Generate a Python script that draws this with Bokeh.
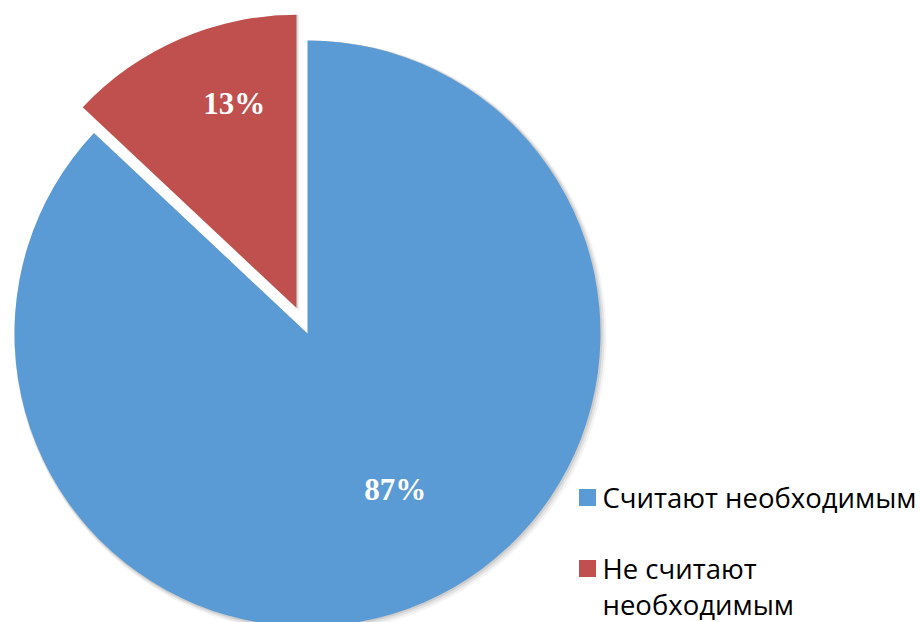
import math
from bokeh.plotting import figure
from bokeh.models import Range1d
from bokeh.core.properties import value
from bokeh.embed import file_html
from bokeh.resources import INLINE

# ---- data ----
categories = ["Считают необходимым", "Не считают необходимым"]
legend_lines = [["Считают необходимым"], ["Не считают", "необходимым"]]
values = [87, 13]
labels = ["87%", "13%"]
colors = ["#5B9BD5", "#C0504D"]

# ---- layout ----
W, H = 920, 622
p = figure(width=W, height=H, output_backend="svg", toolbar_location=None,
           x_range=Range1d(0, W), y_range=Range1d(0, H),
           min_border=0, outline_line_color=None)
p.axis.visible = False
p.grid.visible = False
p.background_fill_color = "white"
p.border_fill_color = "white"

cx, cy, R = 307, 622 - 333, 293
explode = [0, 28]
label_r = [0.63, 0.71]
label_dang = [5.0, -6.0]

total = sum(values)
start = 90.0
angles = []
a = start
for v in reversed(values):
    span = 360.0 * v / total
    angles.append((a, a + span))
    a += span
angles = list(reversed(angles))  # angles[0] blue, angles[1] red

for i, (v, col) in enumerate(zip(values, colors)):
    s, e = angles[i]
    mid = math.radians((s + e) / 2)
    ox = cx + explode[i] * math.cos(mid)
    oy = cy + explode[i] * math.sin(mid)
    # soft shadow
    for dx, dy, dr, al in [(3, -3, 3, 0.08), (2, -2, 2, 0.12), (1, -1, 1, 0.18)]:
        p.wedge(x=[ox + dx], y=[oy + dy], radius=R + dr,
                start_angle=math.radians(s), end_angle=math.radians(e),
                fill_color="#6f6f6f", fill_alpha=al, line_color=None)
    p.wedge(x=[ox], y=[oy], radius=R,
            start_angle=math.radians(s), end_angle=math.radians(e),
            fill_color=col, line_color=None)

for i in range(len(values)):
    s, e = angles[i]
    mid = math.radians((s + e) / 2)
    ox = cx + explode[i] * math.cos(mid)
    oy = cy + explode[i] * math.sin(mid)
    la = math.radians((s + e) / 2 + label_dang[i])
    lx = ox + label_r[i] * R * math.cos(la)
    ly = oy + label_r[i] * R * math.sin(la)
    p.text(x=[lx], y=[ly], text=[labels[i]], text_color="white",
           text_font=value("Liberation Serif"), text_font_style="bold",
           text_font_size="31px", text_align="center", text_baseline="middle",
           y_offset=-6)

# ---- legend ----
leg_x = 587
leg_y0 = 622 - 497
line_h = 36
row_gap = 71
for i, lines in enumerate(legend_lines):
    y = leg_y0 - i * row_gap
    p.rect(x=[leg_x], y=[y], width=17, height=17, fill_color=colors[i], line_color=None)
    for j, t in enumerate(lines):
        p.text(x=[leg_x + 15], y=[y - j * line_h], text=[t], text_color="black",
               text_font=value("Open Sans"), text_font_size="27.5px",
               text_align="left", text_baseline="middle")

open("out.html", "w").write(file_html(p, INLINE))
